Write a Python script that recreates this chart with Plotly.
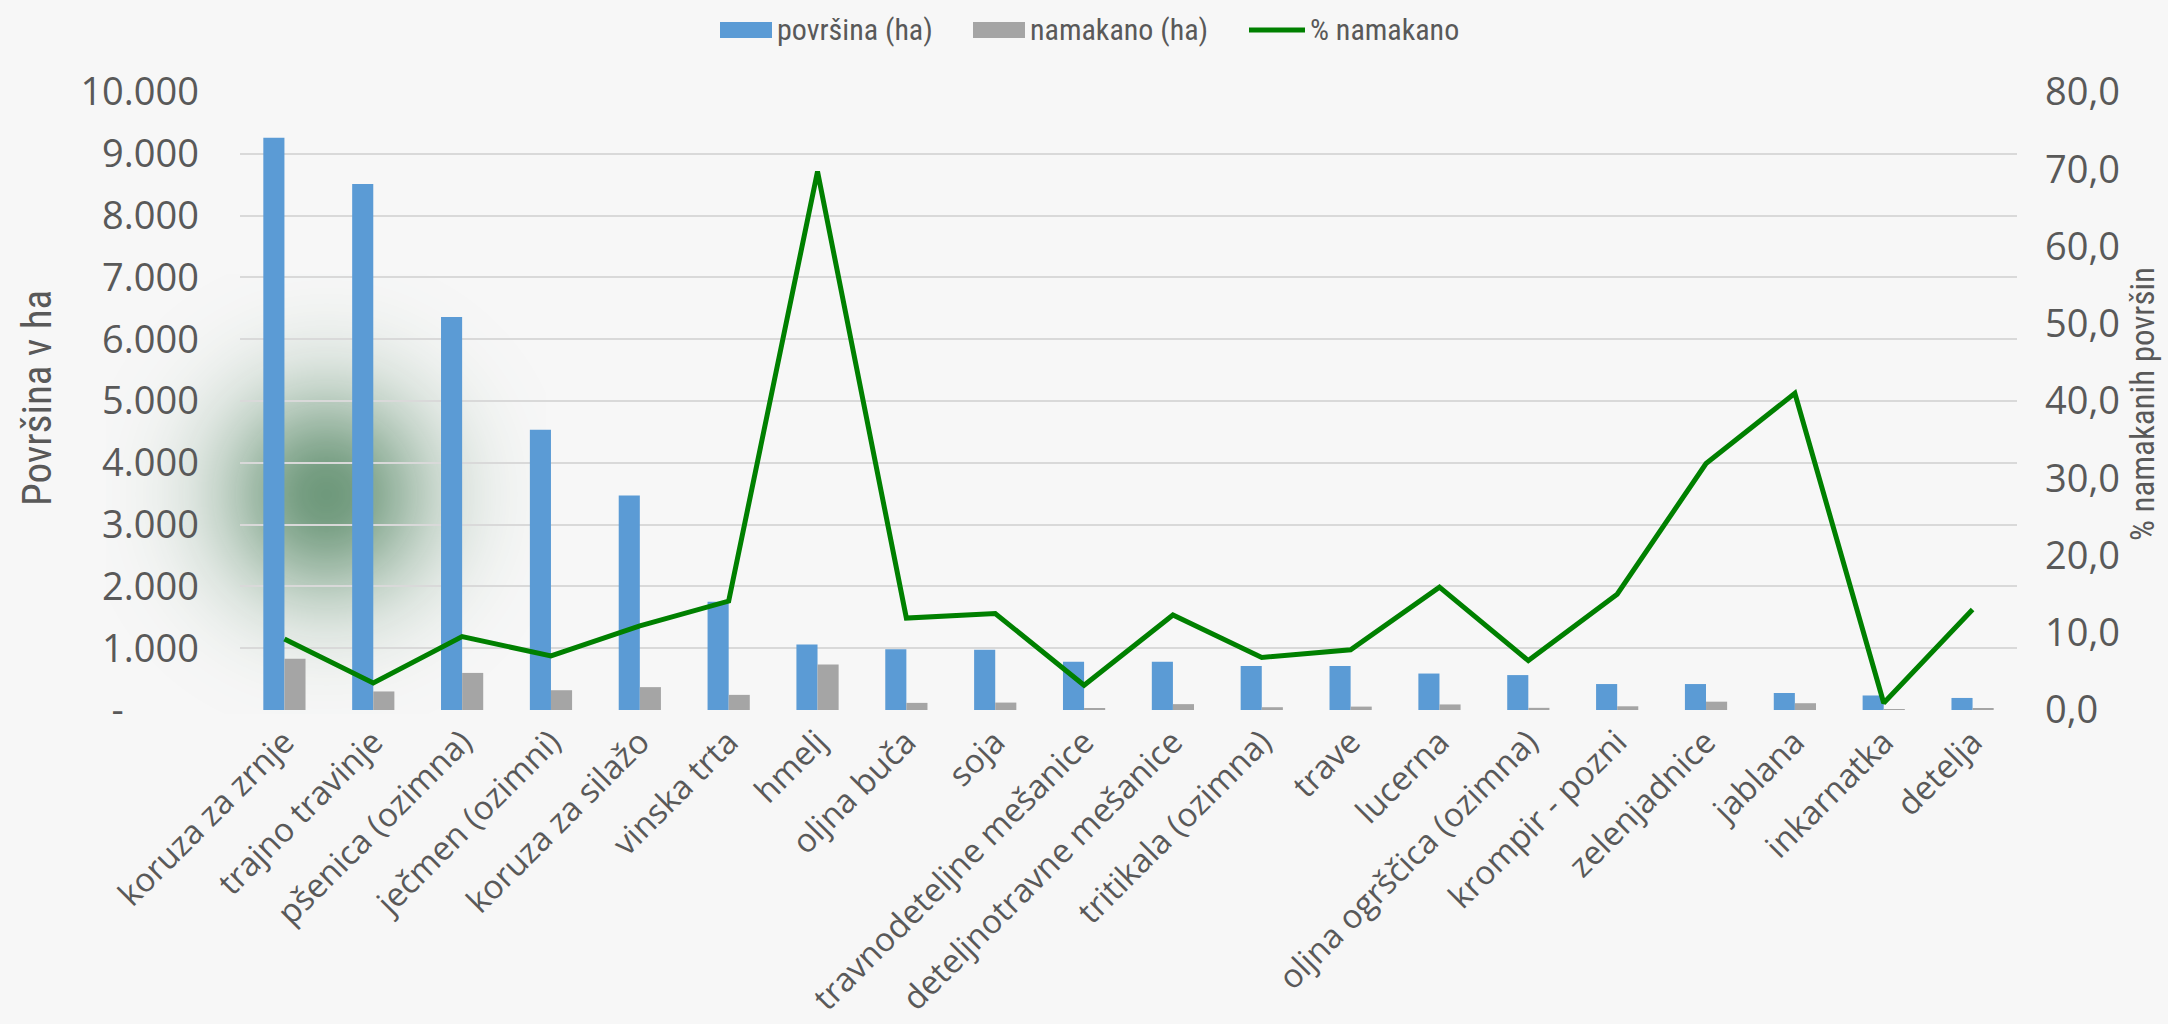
import base64
import struct
import zlib

import numpy as np
import plotly.graph_objects as go

# --- data -------------------------------------------------------------
categories = [
    "koruza za zrnje", "trajno travinje", "pšenica (ozimna)", "ječmen (ozimni)",
    "koruza za silažo", "vinska trta", "hmelj", "oljna buča", "soja",
    "travnodeteljne mešanice", "deteljnotravne mešanice", "tritikala (ozimna)",
    "trave", "lucerna", "oljna ogrščica (ozimna)", "krompir - pozni",
    "zelenjadnice", "jablana", "inkarnatka", "detelja",
]
povrsina_ha = [9260, 8510, 6360, 4535, 3470, 1750, 1060, 985, 975, 780,
               780, 710, 710, 590, 565, 420, 420, 275, 235, 195]
namakano_ha = [830, 300, 600, 320, 370, 245, 735, 115, 120, 25,
               95, 45, 55, 90, 35, 60, 135, 110, 3, 25]
odstotek_namakano = [9.2, 3.5, 9.5, 7.0, 10.9, 14.1, 69.7, 11.9, 12.5, 3.2,
                     12.3, 6.8, 7.8, 15.9, 6.4, 15.0, 31.9, 41.0, 0.9, 13.0]

left_ticks = list(range(0, 10001, 1000))
right_ticks = list(range(0, 81, 10))

# --- layout geometry (pixels) ----------------------------------------
W, H = 2168, 1024
PL, PR, PT, PB = 240, 2017, 92, 710          # plot area edges
PW, PH = PR - PL, PB - PT

BLUE = "#5B9BD5"
GRAY = "#A5A5A5"
GREEN = "#008000"
TXT = "#595959"
TICK_FONT = "Open Sans"
TITLE_FONT = "Roboto Condensed, DejaVu Sans Condensed, Roboto"


def px(x):
    return (x - PL) / PW


def py(y):
    return (PB - y) / PH


def png_data_uri(rgba):
    """Encode an RGBA uint8 array as a PNG data URI."""
    h, w, _ = rgba.shape
    raw = b"".join(b"\x00" + rgba[r].tobytes() for r in range(h))

    def chunk(tag, data):
        c = struct.pack(">I", len(data)) + tag + data
        return c + struct.pack(">I", zlib.crc32(tag + data) & 0xFFFFFFFF)

    png = b"\x89PNG\r\n\x1a\n"
    png += chunk(b"IHDR", struct.pack(">IIBBBBB", w, h, 8, 6, 0, 0, 0))
    png += chunk(b"IDAT", zlib.compress(raw, 9))
    png += chunk(b"IEND", b"")
    return "data:image/png;base64," + base64.b64encode(png).decode()


# soft green glow behind the first bars
G = 440
yy, xx = np.mgrid[0:G, 0:G]
r = np.hypot(xx - G / 2, yy - G / 2)
alpha = 0.70 * np.exp(-1.5 * (r / 130.0) ** 2)
glow = np.zeros((G, G, 4), dtype=np.uint8)
glow[..., 0] = 52
glow[..., 1] = 112
glow[..., 2] = 70
glow[..., 3] = np.clip(alpha * 255, 0, 255).astype(np.uint8)
glow_uri = png_data_uri(glow)
GX, GY = 326, 494

fig = go.Figure()

fig.add_trace(go.Bar(
    x=categories, y=povrsina_ha, name="površina (ha)",
    marker=dict(color=BLUE, line=dict(width=0)), yaxis="y",
))
fig.add_trace(go.Bar(
    x=categories, y=namakano_ha, name="namakano (ha)",
    marker=dict(color=GRAY, line=dict(width=0)), yaxis="y",
))
fig.add_trace(go.Scatter(
    x=categories, y=odstotek_namakano, name="% namakano",
    mode="lines", line=dict(color=GREEN, width=5), yaxis="y2",
))


def fmt_thousands(v):
    # zero is shown as a dash, padded like the other labels
    return "-" + "\u2007" * 3 + "\u2008" if v == 0 else f"{v:,}".replace(",", ".")


fig.update_layout(
    width=W, height=H,
    margin=dict(l=PL, r=W - PR, t=PT, b=H - PB, autoexpand=False),
    paper_bgcolor="#f7f7f7",
    plot_bgcolor="rgba(0,0,0,0)",
    barmode="group", bargap=0.525, bargroupgap=0,
    showlegend=False,
    xaxis=dict(
        tickangle=-45, tickfont=dict(family=TICK_FONT, size=33, color=TXT),
        showgrid=False, showline=False, ticks="", ticklabelstandoff=5,
    ),
    yaxis=dict(
        range=[0, 10000], tickvals=left_ticks,
        ticktext=[fmt_thousands(v) for v in left_ticks],
        tickfont=dict(family=TICK_FONT, size=38, color=TXT),
        showgrid=True, gridcolor="#d9d9d9", gridwidth=2,
        zeroline=False, showline=False, ticks="", ticklabelstandoff=40,
    ),
    yaxis2=dict(
        range=[0, 80], tickvals=right_ticks,
        ticktext=[f"{v:.1f}".replace(".", ",") for v in right_ticks],
        tickfont=dict(family=TICK_FONT, size=38, color=TXT),
        overlaying="y", side="right", showgrid=False, zeroline=False,
        showline=False, ticks="", ticklabelstandoff=27,
    ),
    images=[dict(
        source=glow_uri, xref="paper", yref="paper",
        x=px(GX - G / 2), y=py(GY - G / 2), sizex=G / PW, sizey=G / PH,
        xanchor="left", yanchor="top", sizing="stretch", layer="below",
    )],
)

# axis titles
fig.add_annotation(
    text="Površina v ha", xref="paper", yref="paper", x=px(37), y=py(398),
    textangle=-90, showarrow=False, xanchor="center", yanchor="middle",
    font=dict(family=TITLE_FONT, size=41, color=TXT),
)
fig.add_annotation(
    text="% namakanih površin", xref="paper", yref="paper", x=px(2142), y=py(404),
    textangle=-90, showarrow=False, xanchor="center", yanchor="middle",
    font=dict(family=TITLE_FONT, size=33, color=TXT),
)

# legend row across the top
LEG_Y = 30
legend_items = [
    ("rect", BLUE, 720, 772, "površina (ha)"),
    ("rect", GRAY, 973, 1025, "namakano (ha)"),
    ("line", GREEN, 1249, 1305, "% namakano"),
]
for kind, color, x0, x1, label in legend_items:
    if kind == "rect":
        fig.add_shape(type="rect", xref="paper", yref="paper",
                      x0=px(x0), x1=px(x1), y0=py(LEG_Y - 8), y1=py(LEG_Y + 8),
                      fillcolor=color, line=dict(width=0))
    else:
        fig.add_shape(type="line", xref="paper", yref="paper",
                      x0=px(x0), x1=px(x1), y0=py(LEG_Y), y1=py(LEG_Y),
                      line=dict(color=color, width=5))
    fig.add_annotation(
        text=label, xref="paper", yref="paper", x=px(x1 + 3), y=py(LEG_Y),
        showarrow=False, xanchor="left", yanchor="middle",
        font=dict(family=TITLE_FONT, size=30, color=TXT),
    )

fig.write_html("out.html")
